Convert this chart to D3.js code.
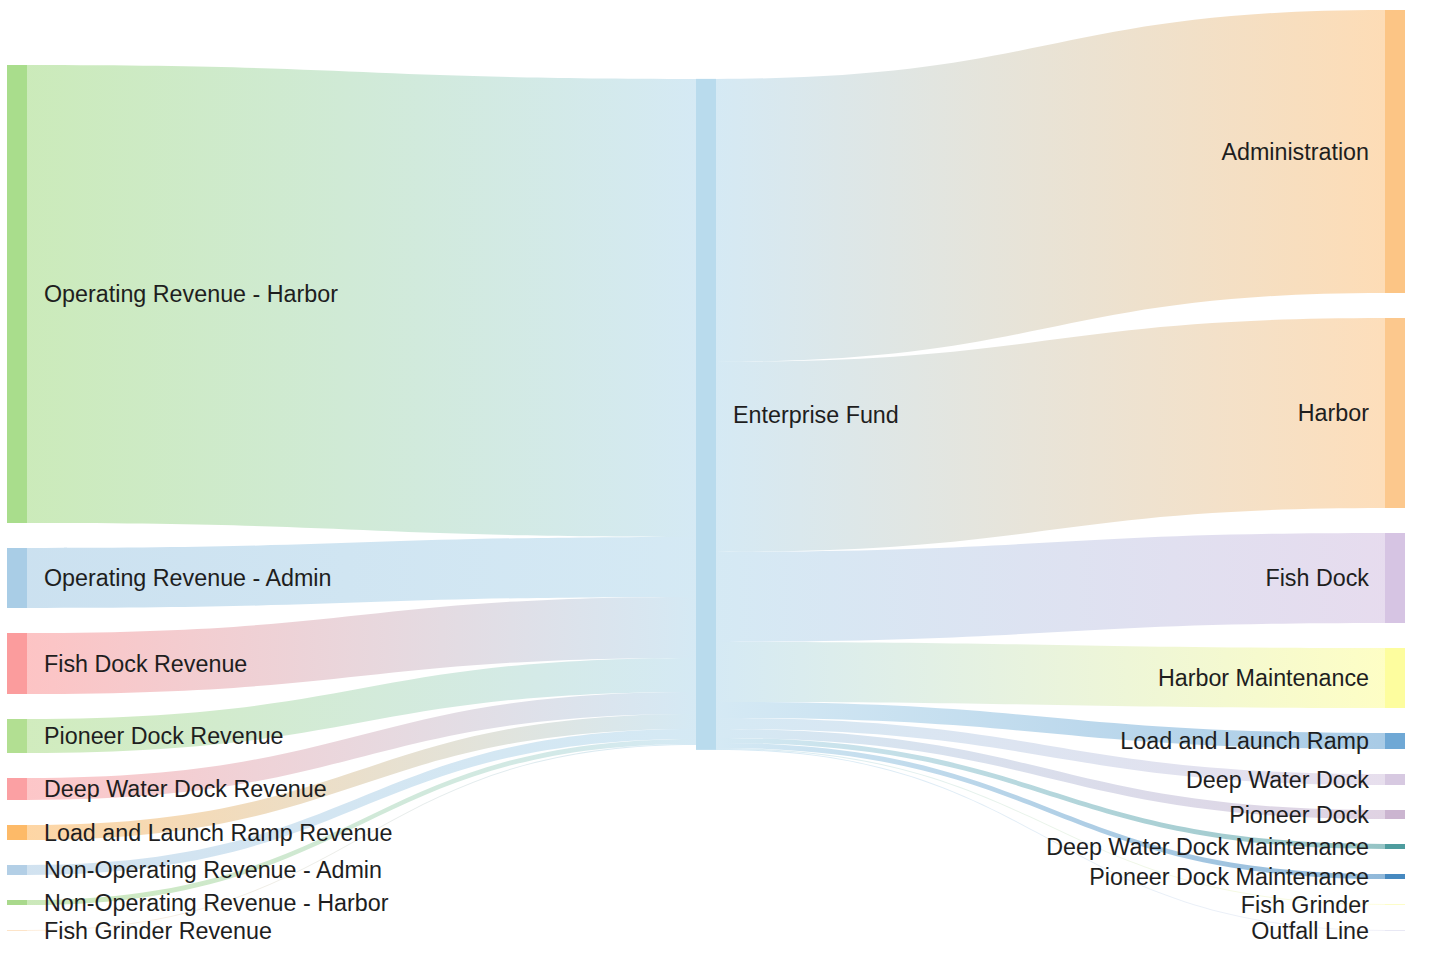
<!DOCTYPE html>
<html><head><meta charset="utf-8">
<script src="https://cdn.jsdelivr.net/npm/d3@7"></script>
<style>body{margin:0;background:#fff} svg{display:block}</style>
</head><body>
<svg id="chart" width="1432" height="955"></svg>
<script>
// ---- data (values in $ thousands) ----
const sourceNames = ["Operating Revenue - Harbor","Operating Revenue - Admin","Fish Dock Revenue","Pioneer Dock Revenue","Deep Water Dock Revenue","Load and Launch Ramp Revenue","Non-Operating Revenue - Admin","Non-Operating Revenue - Harbor","Fish Grinder Revenue"];
const sourceValues = [458, 60, 61, 34, 22, 15, 10, 5, 1];
const sourceColors = ["#a9dd8c","#a9cde6","#fb9c9d","#b2df92","#fba0a3","#fdba68","#b3cfe6","#a9d98c","#fde4c8"];

const hubName = "Enterprise Fund";
const hubColor = "#b9dbed";

const targetNames = ["Administration","Harbor","Fish Dock","Harbor Maintenance","Load and Launch Ramp","Deep Water Dock","Pioneer Dock","Deep Water Dock Maintenance","Pioneer Dock Maintenance","Fish Grinder","Outfall Line"];
const targetValues = [283, 190, 90, 60, 16, 11, 9, 5, 5, 1, 1];
const targetColors = ["#fcc585","#fcc88d","#d6c4e3","#fdfd9e","#6fa8d5","#d7c9e1","#cbb5d0","#4e9c9e","#4689c0","#fdfdc8","#e8e8f4"];

// ---- layout ----
const svg = d3.select("#chart");
const X0 = 7, X1 = 1405, Y0 = 10, Y1 = 931;
const nodeWidth = 20, nodePadding = 25, linkOpacity = 0.6;

const xCol = d3.scalePoint().domain([0,1,2]).range([X0, X1 - nodeWidth]);

const sumL = d3.sum(sourceValues), sumR = d3.sum(targetValues);
const hubValue = Math.max(sumL, sumR);
const cols = [sourceValues, [hubValue], targetValues];
const ky = d3.min(cols, c => (Y1 - Y0 - (c.length - 1) * nodePadding) / d3.sum(c));
const hScale = d3.scaleLinear().domain([0, 1]).range([0, ky]);

function stack(names, values, colors, col, align) {
  const total = hScale(d3.sum(values)) + (values.length - 1) * nodePadding;
  let y = align === "top" ? Y0 : Y1 - total;
  return names.map((name, i) => {
    const h = hScale(values[i]);
    const n = {name, value: values[i], color: colors[i], x0: xCol(col), x1: xCol(col) + nodeWidth, y0: y, y1: y + h, col};
    y += h + nodePadding;
    return n;
  });
}
const left = stack(sourceNames, sourceValues, sourceColors, 0, "bottom");
const right = stack(targetNames, targetValues, targetColors, 2, "top");
// hub centred between the value-weighted centres of its inputs (weighted twice) and outputs
const cL = d3.sum(left, d => d.value * (d.y0 + d.y1) / 2) / sumL;
const cR = d3.sum(right, d => d.value * (d.y0 + d.y1) / 2) / sumR;
const hubCenter = (cL * 9 + cR) / 10;
const hubH = hScale(hubValue);
const hub = {name: hubName, value: hubValue, color: hubColor, x0: xCol(1), x1: xCol(1) + nodeWidth, y0: hubCenter - hubH / 2, y1: hubCenter + hubH / 2, col: 1};

const links = [];
let yIn = hub.y0;
left.forEach(s => {
  const w = hScale(s.value);
  links.push({source: s, target: hub, sx: s.x1, tx: hub.x0, sy0: s.y0, sy1: s.y1, ty0: yIn, ty1: yIn + w});
  yIn += w;
});
let yOut = hub.y0;
right.forEach(t => {
  const w = hScale(t.value);
  links.push({source: hub, target: t, sx: hub.x1, tx: t.x0, sy0: yOut, sy1: yOut + w, ty0: t.y0, ty1: t.y1});
  yOut += w;
});

function bandPath(l) {
  const p = d3.path(), xm = (l.sx + l.tx) / 2;
  p.moveTo(l.sx, l.sy0);
  p.bezierCurveTo(xm, l.sy0, xm, l.ty0, l.tx, l.ty0);
  p.lineTo(l.tx, l.ty1);
  p.bezierCurveTo(xm, l.ty1, xm, l.sy1, l.sx, l.sy1);
  p.closePath();
  return p.toString();
}

const defs = svg.append("defs");
links.forEach((l, i) => {
  const g = defs.append("linearGradient").attr("id", "lg" + i)
    .attr("gradientUnits", "userSpaceOnUse")
    .attr("x1", l.sx).attr("x2", l.tx).attr("y1", 0).attr("y2", 0);
  g.append("stop").attr("offset", "0%").attr("stop-color", l.source.color);
  g.append("stop").attr("offset", "100%").attr("stop-color", l.target.color);
});

svg.append("g").selectAll("path").data(links).join("path")
  .attr("d", bandPath)
  .attr("fill", (d, i) => `url(#lg${i})`)
  .attr("fill-opacity", linkOpacity);

const nodes = [...left, hub, ...right];
svg.append("g").selectAll("rect").data(nodes).join("rect")
  .attr("x", d => d.x0).attr("y", d => d.y0)
  .attr("width", nodeWidth).attr("height", d => Math.max(0.5, d.y1 - d.y0))
  .attr("fill", d => d.color);

svg.append("g")
  .attr("font-family", "'Liberation Sans', Arial, sans-serif")
  .attr("font-size", 23.3).attr("fill", "#1e1e1e")
  .selectAll("text").data(nodes).join("text")
  .attr("x", d => d.col === 2 ? d.x0 - 16 : d.x1 + 17)
  .attr("y", d => (d.y0 + d.y1) / 2)
  .attr("dy", "0.35em")
  .attr("text-anchor", d => d.col === 2 ? "end" : "start")
  .text(d => d.name);
</script>
</body></html>
